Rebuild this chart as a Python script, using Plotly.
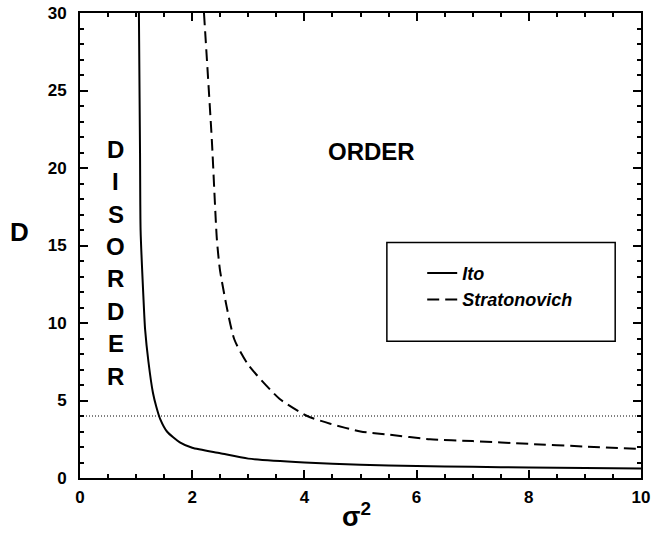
import plotly.graph_objects as go

ito_x = [1.05, 1.07, 1.08, 1.13, 1.16, 1.22, 1.30, 1.36, 1.43, 1.55, 1.78, 2.0, 2.5, 3.0, 4.0, 5.0, 6.0, 7.0, 8.0, 9.0, 10.0]
ito_d = [30, 21, 16, 11.7, 9.6, 7.5, 5.5, 4.6, 3.8, 3.0, 2.3, 1.95, 1.6, 1.25, 1.0, 0.85, 0.78, 0.72, 0.68, 0.65, 0.62]

strat_x = [2.21, 2.35, 2.44, 2.5, 2.75, 3.0, 3.56, 4.05, 4.46, 5.0, 5.5, 6.24, 7.0, 8.0, 9.0, 10.0]
strat_d = [30, 21.8, 15.4, 13.3, 8.95, 7.3, 5.1, 4.0, 3.5, 3.0, 2.8, 2.5, 2.38, 2.2, 2.03, 1.87]

threshold_x = [0, 10]
threshold_d = [4, 4]

disorder_letters = list("DISORDER")
x_ticks = [0, 2, 4, 6, 8, 10]
y_ticks = [0, 5, 10, 15, 20, 25, 30]

FONT = "Liberation Sans, Arial, Helvetica, sans-serif"

fig = go.Figure()
fig.add_trace(go.Scatter(x=ito_x, y=ito_d, mode="lines", name="Ito",
                         line=dict(color="black", width=2, shape="spline", smoothing=0.6)))
fig.add_trace(go.Scatter(x=strat_x, y=strat_d, mode="lines", name="Stratonovich",
                         line=dict(color="black", width=2, dash="12px,6px", shape="spline", smoothing=0.6)))
fig.add_trace(go.Scatter(x=threshold_x, y=threshold_d, mode="lines", showlegend=False,
                         line=dict(color="black", width=1, dash="1px,2px")))

# legend box
fig.add_shape(type="rect", xref="x", yref="y", x0=5.47, x1=9.54, y0=8.82, y1=15.2,
              line=dict(color="black", width=1.5), fillcolor="rgba(0,0,0,0)")

fig.add_annotation(x=5.2, y=21.05, text="ORDER", showarrow=False,
                   font=dict(family=FONT, size=24, color="black", weight="bold"))
for i, ch in enumerate(disorder_letters):
    fig.add_annotation(x=0.64, y=21.2 - i * 2.09, text=ch, showarrow=False,
                       font=dict(family=FONT, size=24, color="black", weight="bold"))

# axis titles
fig.add_annotation(xref="paper", yref="paper", x=-0.107, y=0.528, xanchor="center", yanchor="middle",
                   text="D", showarrow=False,
                   font=dict(family=FONT, size=26, color="black", weight="bold"))
fig.add_annotation(xref="paper", yref="paper", x=0.492, y=-0.08, xanchor="center", yanchor="middle",
                   text="σ<sup>2</sup>", showarrow=False,
                   font=dict(family=FONT, size=27, color="black", weight="bold"))

axis_common = dict(showline=True, linecolor="black", linewidth=2, mirror="ticks",
                   ticks="inside", ticklen=8, tickwidth=1.5, tickcolor="black",
                   showgrid=False, zeroline=False, automargin=False,
                   ticklabeloverflow="allow",
                   tickfont=dict(family=FONT, size=17, color="black", weight="bold"))

fig.update_xaxes(range=[0, 10], tickvals=x_ticks, **axis_common, ticklabelstandoff=3,
                 minor=dict(ticks="inside", ticklen=4, dtick=0.5, tickcolor="black", tickwidth=1.5))
fig.update_yaxes(range=[0, 30], tickvals=y_ticks, **axis_common, ticklabelstandoff=8,
                 minor=dict(ticks="inside", ticklen=4, dtick=1, tickcolor="black", tickwidth=1.5))

fig.update_layout(
    width=651, height=535,
    margin=dict(l=80, r=10, t=13, b=57),
    paper_bgcolor="white", plot_bgcolor="white",
    showlegend=True,
    legend=dict(x=0.61, y=0.48, xanchor="left", yanchor="top",
                bgcolor="rgba(0,0,0,0)", borderwidth=0,
                font=dict(family=FONT, size=18, color="black", style="italic", weight="bold"),
                tracegroupgap=0),
)

# remove the default 8px page margin so the figure fills the window
fig.write_html("out.html", config={"displayModeBar": False},
               post_script="document.body.style.margin='0';")
